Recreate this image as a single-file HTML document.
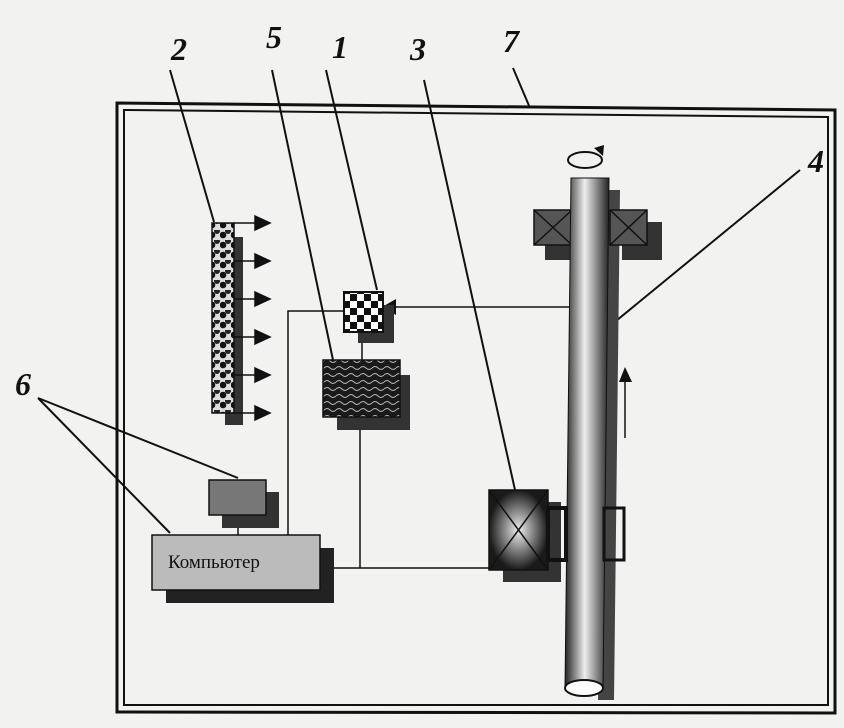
<!DOCTYPE html>
<html><head><meta charset="utf-8"><style>
body{margin:0;background:#f2f2f0}
svg{display:block}
text{font-family:"Liberation Serif",serif;font-style:italic}
</style></head><body>
<svg width="844" height="728" viewBox="0 0 844 728" xmlns="http://www.w3.org/2000/svg">
<defs>
<pattern id="chk" width="14" height="14" patternUnits="userSpaceOnUse"><rect width="14" height="14" fill="#fff"/><rect width="7" height="7" fill="#111"/><rect x="7" y="7" width="7" height="7" fill="#111"/></pattern>
<pattern id="bead" width="11" height="10" patternUnits="userSpaceOnUse"><rect width="11" height="10" fill="#ddd"/><circle cx="3" cy="5" r="3.3" fill="#111"/><circle cx="8" cy="1" r="3" fill="#222"/></pattern>
<pattern id="wav" width="12" height="7" patternUnits="userSpaceOnUse"><rect width="12" height="7" fill="#1a1a1a"/><path d="M0 4 Q3 1 6 4 T12 4" stroke="#bbb" stroke-width="0.9" fill="none"/></pattern>
<linearGradient id="pipe" x1="0" x2="1"><stop offset="0" stop-color="#222"/><stop offset="0.45" stop-color="#eee"/><stop offset="1" stop-color="#222"/></linearGradient>
<radialGradient id="box3"><stop offset="0" stop-color="#eee"/><stop offset="1" stop-color="#1a1a1a"/></radialGradient>
</defs>
<rect width="844" height="728" fill="#f2f2f0"/>
<!-- frame -->
<polygon points="117,103 835,110 835,713 117,712" fill="none" stroke="#111" stroke-width="3"/>
<polygon points="124,110 828,117 828,705 124,705" fill="none" stroke="#111" stroke-width="2"/>
<!-- leaders -->
<g stroke="#111" stroke-width="2" fill="none">
<line x1="170" y1="70" x2="214" y2="222"/>
<line x1="272" y1="70" x2="333" y2="360"/>
<line x1="326" y1="70" x2="377" y2="290"/>
<line x1="424" y1="80" x2="515" y2="490"/>
<line x1="513" y1="68" x2="530" y2="108"/>
<line x1="800" y1="170" x2="605" y2="330"/>
<line x1="38" y1="398" x2="238" y2="478"/>
<line x1="38" y1="398" x2="170" y2="533"/>
</g>
<g font-size="32" fill="#111" font-weight="bold">
<text x="171" y="60">2</text><text x="266" y="48">5</text><text x="332" y="58">1</text><text x="410" y="60">3</text><text x="503" y="52">7</text><text x="808" y="172">4</text><text x="15" y="395">6</text>
</g>
<!-- emitter 2 -->
<rect x="225" y="237" width="18" height="188" fill="#333"/>
<rect x="212" y="223" width="22" height="190" fill="url(#bead)" stroke="#111" stroke-width="1.5"/>
<g stroke="#111" stroke-width="1.5" fill="#111">
<line x1="234" y1="223" x2="255" y2="223"/><polygon points="255,216 270,223 255,230"/>
<line x1="234" y1="261" x2="255" y2="261"/><polygon points="255,254 270,261 255,268"/>
<line x1="234" y1="299" x2="255" y2="299"/><polygon points="255,292 270,299 255,306"/>
<line x1="234" y1="337" x2="255" y2="337"/><polygon points="255,330 270,337 255,344"/>
<line x1="234" y1="375" x2="255" y2="375"/><polygon points="255,368 270,375 255,382"/>
<line x1="234" y1="413" x2="255" y2="413"/><polygon points="255,406 270,413 255,420"/>
</g>
<!-- connecting lines -->
<g stroke="#111" stroke-width="1.5" fill="none">
<polyline points="344,311 288,311 288,535"/>
<line x1="362" y1="332" x2="362" y2="360"/>
<polyline points="360,417 360,568"/>
<line x1="320" y1="568" x2="489" y2="568"/>
<line x1="238" y1="515" x2="238" y2="535"/>
<line x1="570" y1="307" x2="395" y2="307"/>
</g>
<polygon points="382,307 396,299 396,315" fill="#111"/>
<!-- sensor 1 -->
<rect x="358" y="305" width="36" height="38" fill="#333"/>
<rect x="344" y="292" width="39" height="40" fill="url(#chk)" stroke="#111" stroke-width="2"/>
<!-- box 5 -->
<rect x="337" y="375" width="73" height="55" fill="#333"/>
<rect x="323" y="360" width="77" height="57" fill="url(#wav)" stroke="#111" stroke-width="1.5"/>
<!-- monitor -->
<rect x="222" y="492" width="57" height="36" fill="#333"/>
<rect x="209" y="480" width="57" height="35" fill="#777" stroke="#111" stroke-width="1.5"/>
<!-- computer -->
<rect x="166" y="548" width="168" height="55" fill="#222"/>
<rect x="152" y="535" width="168" height="55" fill="#bbb" stroke="#111" stroke-width="1.5"/>
<text x="168" y="568" font-size="19" style="font-style:normal" fill="#111" font-family="Liberation Serif">Компьютер</text>
<!-- pipe shadow -->
<polygon points="607,190 620,190 614,700 598,700" fill="#444"/>
<!-- upper bearings -->
<rect x="545" y="222" width="40" height="38" fill="#333"/>
<rect x="622" y="222" width="40" height="38" fill="#333"/>
<g stroke="#111" stroke-width="1.5">
<rect x="534" y="210" width="38" height="35" fill="#555"/>
<line x1="534" y1="210" x2="572" y2="245"/><line x1="572" y1="210" x2="534" y2="245"/>
<rect x="610" y="210" width="37" height="35" fill="#555"/>
<line x1="610" y1="210" x2="647" y2="245"/><line x1="647" y1="210" x2="610" y2="245"/>
</g>
<!-- pipe -->
<polygon points="571,178 609,178 603,688 565,688" fill="url(#pipe)" stroke="#111" stroke-width="1"/>
<ellipse cx="584" cy="688" rx="19" ry="8" fill="#fff" stroke="#111" stroke-width="2"/>
<ellipse cx="585" cy="160" rx="17" ry="8" fill="none" stroke="#111" stroke-width="2"/>
<polygon points="594,148 604,145 603,156" fill="#111"/>
<!-- arrow up -->
<line x1="625" y1="380" x2="625" y2="438" stroke="#111" stroke-width="1.5"/>
<polygon points="619,382 625,367 632,382" fill="#111"/>
<!-- box 3 -->
<rect x="503" y="502" width="58" height="80" fill="#333"/>
<rect x="489" y="490" width="59" height="80" fill="url(#box3)" stroke="#111" stroke-width="1.5"/>
<line x1="489" y1="490" x2="548" y2="570" stroke="#111" stroke-width="1.5"/>
<line x1="548" y1="490" x2="489" y2="570" stroke="#111" stroke-width="1.5"/>
<rect x="548" y="508" width="18" height="52" fill="none" stroke="#111" stroke-width="4"/>
<rect x="604" y="508" width="20" height="52" fill="none" stroke="#111" stroke-width="3"/>
</svg>
</body></html>
